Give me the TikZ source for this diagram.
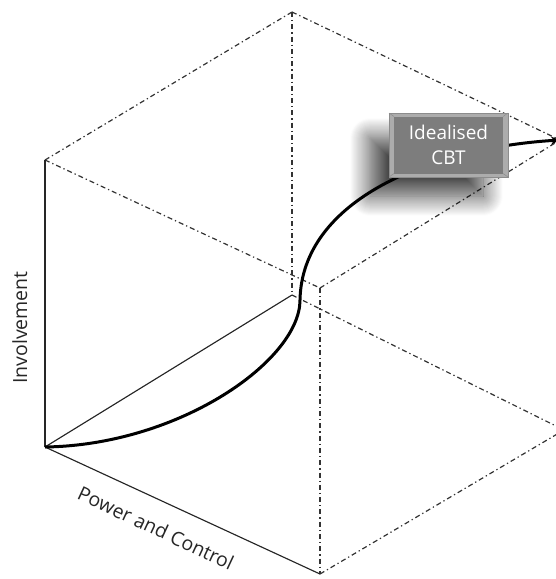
\documentclass[tikz,border=0pt]{standalone}
\usepackage{fontspec}
\setmainfont{Open Sans}
\usetikzlibrary{shadows.blur,arrows.meta}
\definecolor{boxgray}{RGB}{125,125,125}
\definecolor{bevelgray}{RGB}{172,172,172}
\definecolor{edgegray}{RGB}{140,140,140}
\tikzset{
  axisline/.style={line width=1.15pt, black!85},
  dashdot/.style={line width=1.2pt, black!80, dash pattern=on 5pt off 3pt on 1.3pt off 3pt},
  curveline/.style={line width=3pt, black, -{Stealth[length=9pt,width=8pt]}},
  axislabel/.style={font=\fontsize{19.5}{22}\selectfont, inner sep=0pt, text=black!85},
  cbtbox/.style={minimum width=119pt, minimum height=64pt, inner sep=0pt, text=white,
    align=center, font=\fontsize{19}{25}\selectfont}
}
\begin{document}
\begin{tikzpicture}[x=1pt,y=-1pt]
\useasboundingbox (0,0) rectangle (556,579);
% vertices
\coordinate (O)  at (45,447);
\coordinate (TL) at (45,160);
\coordinate (T)  at (292,12);
\coordinate (R)  at (560,140);
\coordinate (BR) at (564,430);
\coordinate (B)  at (320,574);
\coordinate (C1) at (292,295);
\coordinate (C2) at (320,288);
\coordinate (M)  at (300,300);
% dash-dot edges
\draw[dashdot] (TL) -- (T);
\draw[dashdot] (T) -- (C1);
\draw[dashdot] (T) -- (R);
\draw[dashdot] (TL) -- (C2);
\draw[dashdot] (C1) -- (BR);
\draw[dashdot] (C2) -- (R);
\draw[dashdot] (C2) -- (B);
\draw[dashdot] (B) -- (BR);
% solid axes
\draw[axisline] (O) -- (TL);
\draw[axisline] (O) -- (C1);
\draw[axisline] (O) -- (B);
% shadow of box
\path[blur shadow={shadow xshift=-22pt, shadow yshift=-22pt, shadow blur radius=20pt, shadow blur steps=20, shadow opacity=75}]
  (392,116) rectangle (505,174);
% curve
\draw[curveline] (O) .. controls (180,445) and (300,360) .. (M)
  .. controls (302,200) and (430,148) .. (R);
% box
\node[cbtbox, fill=bevelgray, draw=edgegray, line width=0.6pt] (cbt) at (448.5,145) {};
\fill[boxgray] (394,116.5) rectangle (503,173.5);
\draw[edgegray, line width=0.5pt] (389,113) -- (394,116.5) (508,113) -- (503,116.5)
  (389,177) -- (394,173.5) (508,177) -- (503,173.5);
\node[cbtbox] (cbttext) at (cbt.center) {Idealised\\CBT};
% labels
\node[axislabel, rotate=90] (inv) at (19.7,327.5) {Involvement};
\node[axislabel, rotate=-25] (pc) at (156,528) {Power and Control};
\end{tikzpicture}
\end{document}
